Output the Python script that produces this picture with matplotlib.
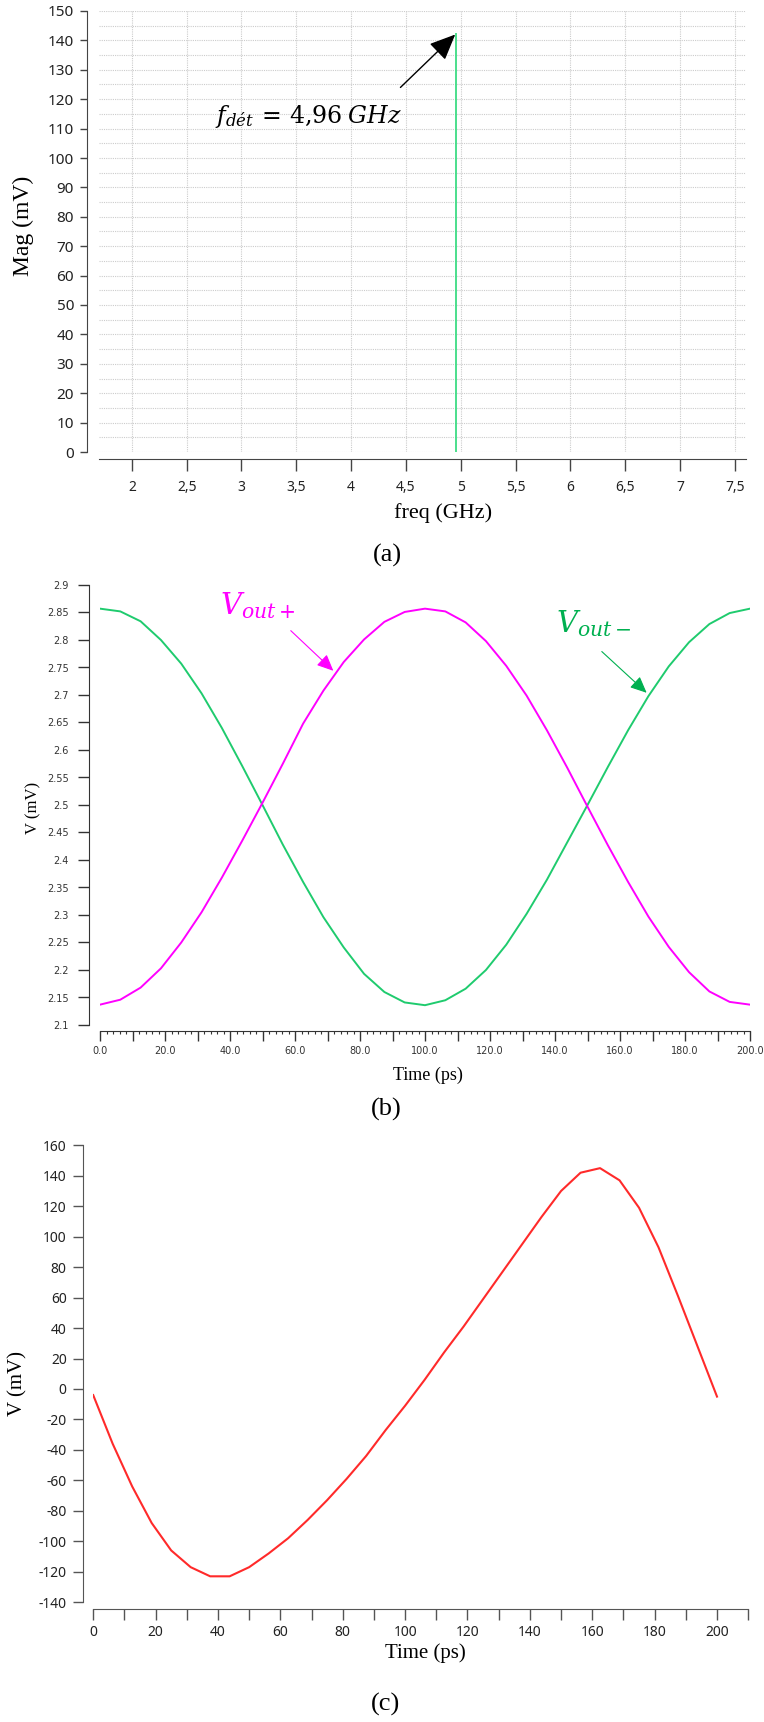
#!/usr/bin/env python3
"""Three stacked simulation plots: spectrum (a), differential outputs (b), difference (c)."""

import matplotlib
matplotlib.use("Agg")
import matplotlib.pyplot as plt
from matplotlib.ticker import FixedLocator, FuncFormatter, MultipleLocator

W, H = 764, 1722

# (a) spectrum peak
spec_freq_ghz = [4.96]
spec_mag_mv = [142.6]
freq_ticks = [2, 2.5, 3, 3.5, 4, 4.5, 5, 5.5, 6, 6.5, 7, 7.5]
freq_labels = ["2", "2,5", "3", "3,5", "4", "4,5", "5", "5,5", "6", "6,5", "7", "7,5"]
mag_ticks = [0, 10, 20, 30, 40, 50, 60, 70, 80, 90, 100, 110, 120, 130, 140, 150]

# (b) differential outputs
time_b_ps = [0, 6.25, 12.5, 18.75, 25, 31.25, 37.5, 43.75, 50, 56.25, 62.5, 68.75,
             75, 81.25, 87.5, 93.75, 100, 106.25, 112.5, 118.75, 125, 131.25, 137.5,
             143.75, 150, 156.25, 162.5, 168.75, 175, 181.25, 187.5, 193.75, 200]
vout_plus = [2.137, 2.146, 2.168, 2.203, 2.250, 2.305, 2.368, 2.435, 2.504, 2.575,
             2.648, 2.708, 2.760, 2.801, 2.833, 2.851, 2.857, 2.852, 2.832, 2.798,
             2.753, 2.699, 2.636, 2.568, 2.497, 2.427, 2.360, 2.297, 2.242, 2.196,
             2.161, 2.142, 2.137]
vout_minus = [2.857, 2.852, 2.834, 2.800, 2.757, 2.703, 2.640, 2.571, 2.500, 2.428,
              2.360, 2.296, 2.241, 2.193, 2.160, 2.141, 2.136, 2.145, 2.166, 2.200,
              2.246, 2.302, 2.364, 2.432, 2.500, 2.569, 2.636, 2.698, 2.752, 2.796,
              2.829, 2.849, 2.857]
volt_b_ticks = [2.1, 2.15, 2.2, 2.25, 2.3, 2.35, 2.4, 2.45, 2.5, 2.55, 2.6, 2.65,
                2.7, 2.75, 2.8, 2.85, 2.9]

# (c) difference signal
time_c_ps = time_b_ps
vdiff_mv = [-4, -36, -64, -88, -106, -117, -123, -123, -117, -108, -98, -86, -73,
            -59, -44, -27, -11, 6, 24, 41, 59, 77, 95, 113, 130, 142, 145, 137, 119,
            93, 61, 28, -5]
volt_c_ticks = [-140, -120, -100, -80, -60, -40, -20, 0, 20, 40, 60, 80, 100, 120, 140, 160]

SERIF = "Liberation Serif"
SANS = "Noto Sans"
MATH = "dejavuserif"
PT = 0.72  # points per pixel at dpi 100


def px_rect(left, top, right, bottom):
    return [left / W, 1 - bottom / H, (right - left) / W, (bottom - top) / H]


def fig_text(fig, x, y, s, **kw):
    fig.text(x / W, 1 - y / H, s, ha="center", va="center", **kw)


fig = plt.figure(figsize=(W / 100, H / 100), dpi=100)

# ---------------- (a) ----------------
ax = fig.add_axes(px_rect(99, 11, 745.7, 452))
ax.set_xlim(1.7, 7.6)
ax.set_ylim(0, 150)
for s in ("top", "right"):
    ax.spines[s].set_visible(False)
ax.spines["left"].set_position(("outward", 12 * PT))
ax.spines["bottom"].set_position(("outward", 7 * PT))
for s in ("left", "bottom"):
    ax.spines[s].set_color("#444444")
ax.set_xticks(freq_ticks)
ax.set_xticklabels(freq_labels)
ax.set_yticks(mag_ticks)
ax.yaxis.set_minor_locator(MultipleLocator(5))
ax.tick_params(axis="x", direction="out", length=12 * PT, width=1, color="#444444",
               pad=9 * PT, labelsize=10, labelcolor="#222222")
ax.tick_params(axis="y", direction="out", length=7 * PT, width=1, color="#444444",
               pad=6 * PT, labelsize=11, labelcolor="#222222")
ax.tick_params(axis="y", which="minor", length=0)
for lab in ax.get_xticklabels() + ax.get_yticklabels():
    lab.set_family(SANS)
ax.grid(True, axis="y", which="both", color="#cccccc", ls=(0, (1, 1)), lw=0.8)
ax.grid(True, axis="x", which="major", color="#cccccc", ls=(0, (1, 1)), lw=0.8)
ax.set_axisbelow(True)
ax.vlines(spec_freq_ghz, 0, spec_mag_mv, color="#3ddc84", lw=1.3)
ax.annotate("", xy=(4.95, 142), xytext=(4.45, 124),
            arrowprops=dict(arrowstyle="-|>,head_length=1.6,head_width=0.7",
                            color="black", lw=1, shrinkA=0, shrinkB=0))
ax.text(3.61, 114, r"$f_{d\acute{e}t}\,=\,4{,}96\;GHz$", ha="center", va="center",
        fontsize=17, math_fontfamily=MATH)

fig_text(fig, 23, 226, "Mag (mV)", rotation=90, fontsize=17, family=SERIF)
fig_text(fig, 443, 513, "freq (GHz)", fontsize=16, family=SERIF)
fig_text(fig, 387, 555, "(a)", fontsize=19, family=SERIF)

# ---------------- (b) ----------------
ax = fig.add_axes(px_rect(100, 585, 750, 1025))
ax.set_xlim(0, 200)
ax.set_ylim(2.1, 2.9)
for s in ("top", "right"):
    ax.spines[s].set_visible(False)
ax.spines["left"].set_position(("outward", 11 * PT))
ax.spines["bottom"].set_position(("outward", 5.7 * PT))
for s in ("left", "bottom"):
    ax.spines[s].set_color("#333333")
ax.yaxis.set_major_locator(FixedLocator(volt_b_ticks))
ax.yaxis.set_major_formatter(FuncFormatter(lambda v, _: f"{v:g}"))
ax.xaxis.set_major_locator(MultipleLocator(10))
ax.xaxis.set_minor_locator(MultipleLocator(2))
ax.xaxis.set_major_formatter(FuncFormatter(lambda v, _: f"{v:.1f}" if round(v) % 20 == 0 else ""))
ax.tick_params(axis="y", direction="out", length=11 * PT, width=1, color="#333333",
               pad=9 * PT, labelsize=7, labelcolor="#333333")
ax.tick_params(axis="x", direction="out", length=10 * PT, width=1, color="#333333",
               pad=5 * PT, labelsize=7, labelcolor="#333333")
ax.tick_params(axis="x", which="minor", direction="out", length=3 * PT, width=0.8,
               color="#333333")
ax.plot(time_b_ps, vout_minus, color="#1fcb6e", lw=1.4)
ax.plot(time_b_ps, vout_plus, color="#ff00ff", lw=1.4)
ax.text(48.5, 2.862, r"$V_{out+}$", color="#ff00ff", fontsize=21, ha="center",
        va="center", math_fontfamily=MATH)
ax.text(152, 2.829, r"$V_{out-}$", color="#00b050", fontsize=21, ha="center",
        va="center", math_fontfamily=MATH)
ax.annotate("", xy=(71.8, 2.744), xytext=(58.7, 2.817),
            arrowprops=dict(arrowstyle="-|>,head_length=1.0,head_width=0.45",
                            color="#ff00ff", lw=0.8, shrinkA=0, shrinkB=0))
ax.annotate("", xy=(168.2, 2.704), xytext=(154.4, 2.779),
            arrowprops=dict(arrowstyle="-|>,head_length=1.0,head_width=0.45",
                            color="#00b050", lw=0.8, shrinkA=0, shrinkB=0))

fig_text(fig, 33, 808, "V (mV)", rotation=90, fontsize=12, family=SERIF)
fig_text(fig, 428, 1075, "Time (ps)", fontsize=13, family=SERIF)
fig_text(fig, 386, 1109, "(b)", fontsize=19, family=SERIF)

# ---------------- (c) ----------------
ax = fig.add_axes(px_rect(93.2, 1145.3, 748.2, 1602.2))
ax.set_xlim(0, 210)
ax.set_ylim(-140, 160)
for s in ("top", "right"):
    ax.spines[s].set_visible(False)
ax.spines["left"].set_position(("outward", 10.5 * PT))
ax.spines["bottom"].set_position(("outward", 7 * PT))
for s in ("left", "bottom"):
    ax.spines[s].set_color("#555555")
ax.yaxis.set_major_locator(FixedLocator(volt_c_ticks))
ax.yaxis.set_major_formatter(FuncFormatter(lambda v, _: f"{int(round(v))}"))
ax.xaxis.set_major_locator(MultipleLocator(10))
ax.xaxis.set_major_formatter(FuncFormatter(
    lambda v, _: f"{int(round(v))}" if round(v) % 20 == 0 and v <= 200 else ""))
ax.tick_params(axis="y", direction="out", length=10 * PT, width=1, color="#555555",
               pad=6 * PT, labelsize=10, labelcolor="#222222")
ax.tick_params(axis="x", direction="out", length=11 * PT, width=1, color="#555555",
               pad=5 * PT, labelsize=10, labelcolor="#222222")
for lab in ax.get_xticklabels() + ax.get_yticklabels():
    lab.set_family(SANS)
ax.plot(time_c_ps, vdiff_mv, color="#ff2a2a", lw=1.5)

fig_text(fig, 18, 1384, "V (mV)", rotation=90, fontsize=15, family=SERIF)
fig_text(fig, 425, 1653, "Time (ps)", fontsize=15, family=SERIF)
fig_text(fig, 386, 1704, "(c)", fontsize=19, family=SERIF)

fig.savefig("out.png", dpi=100)
